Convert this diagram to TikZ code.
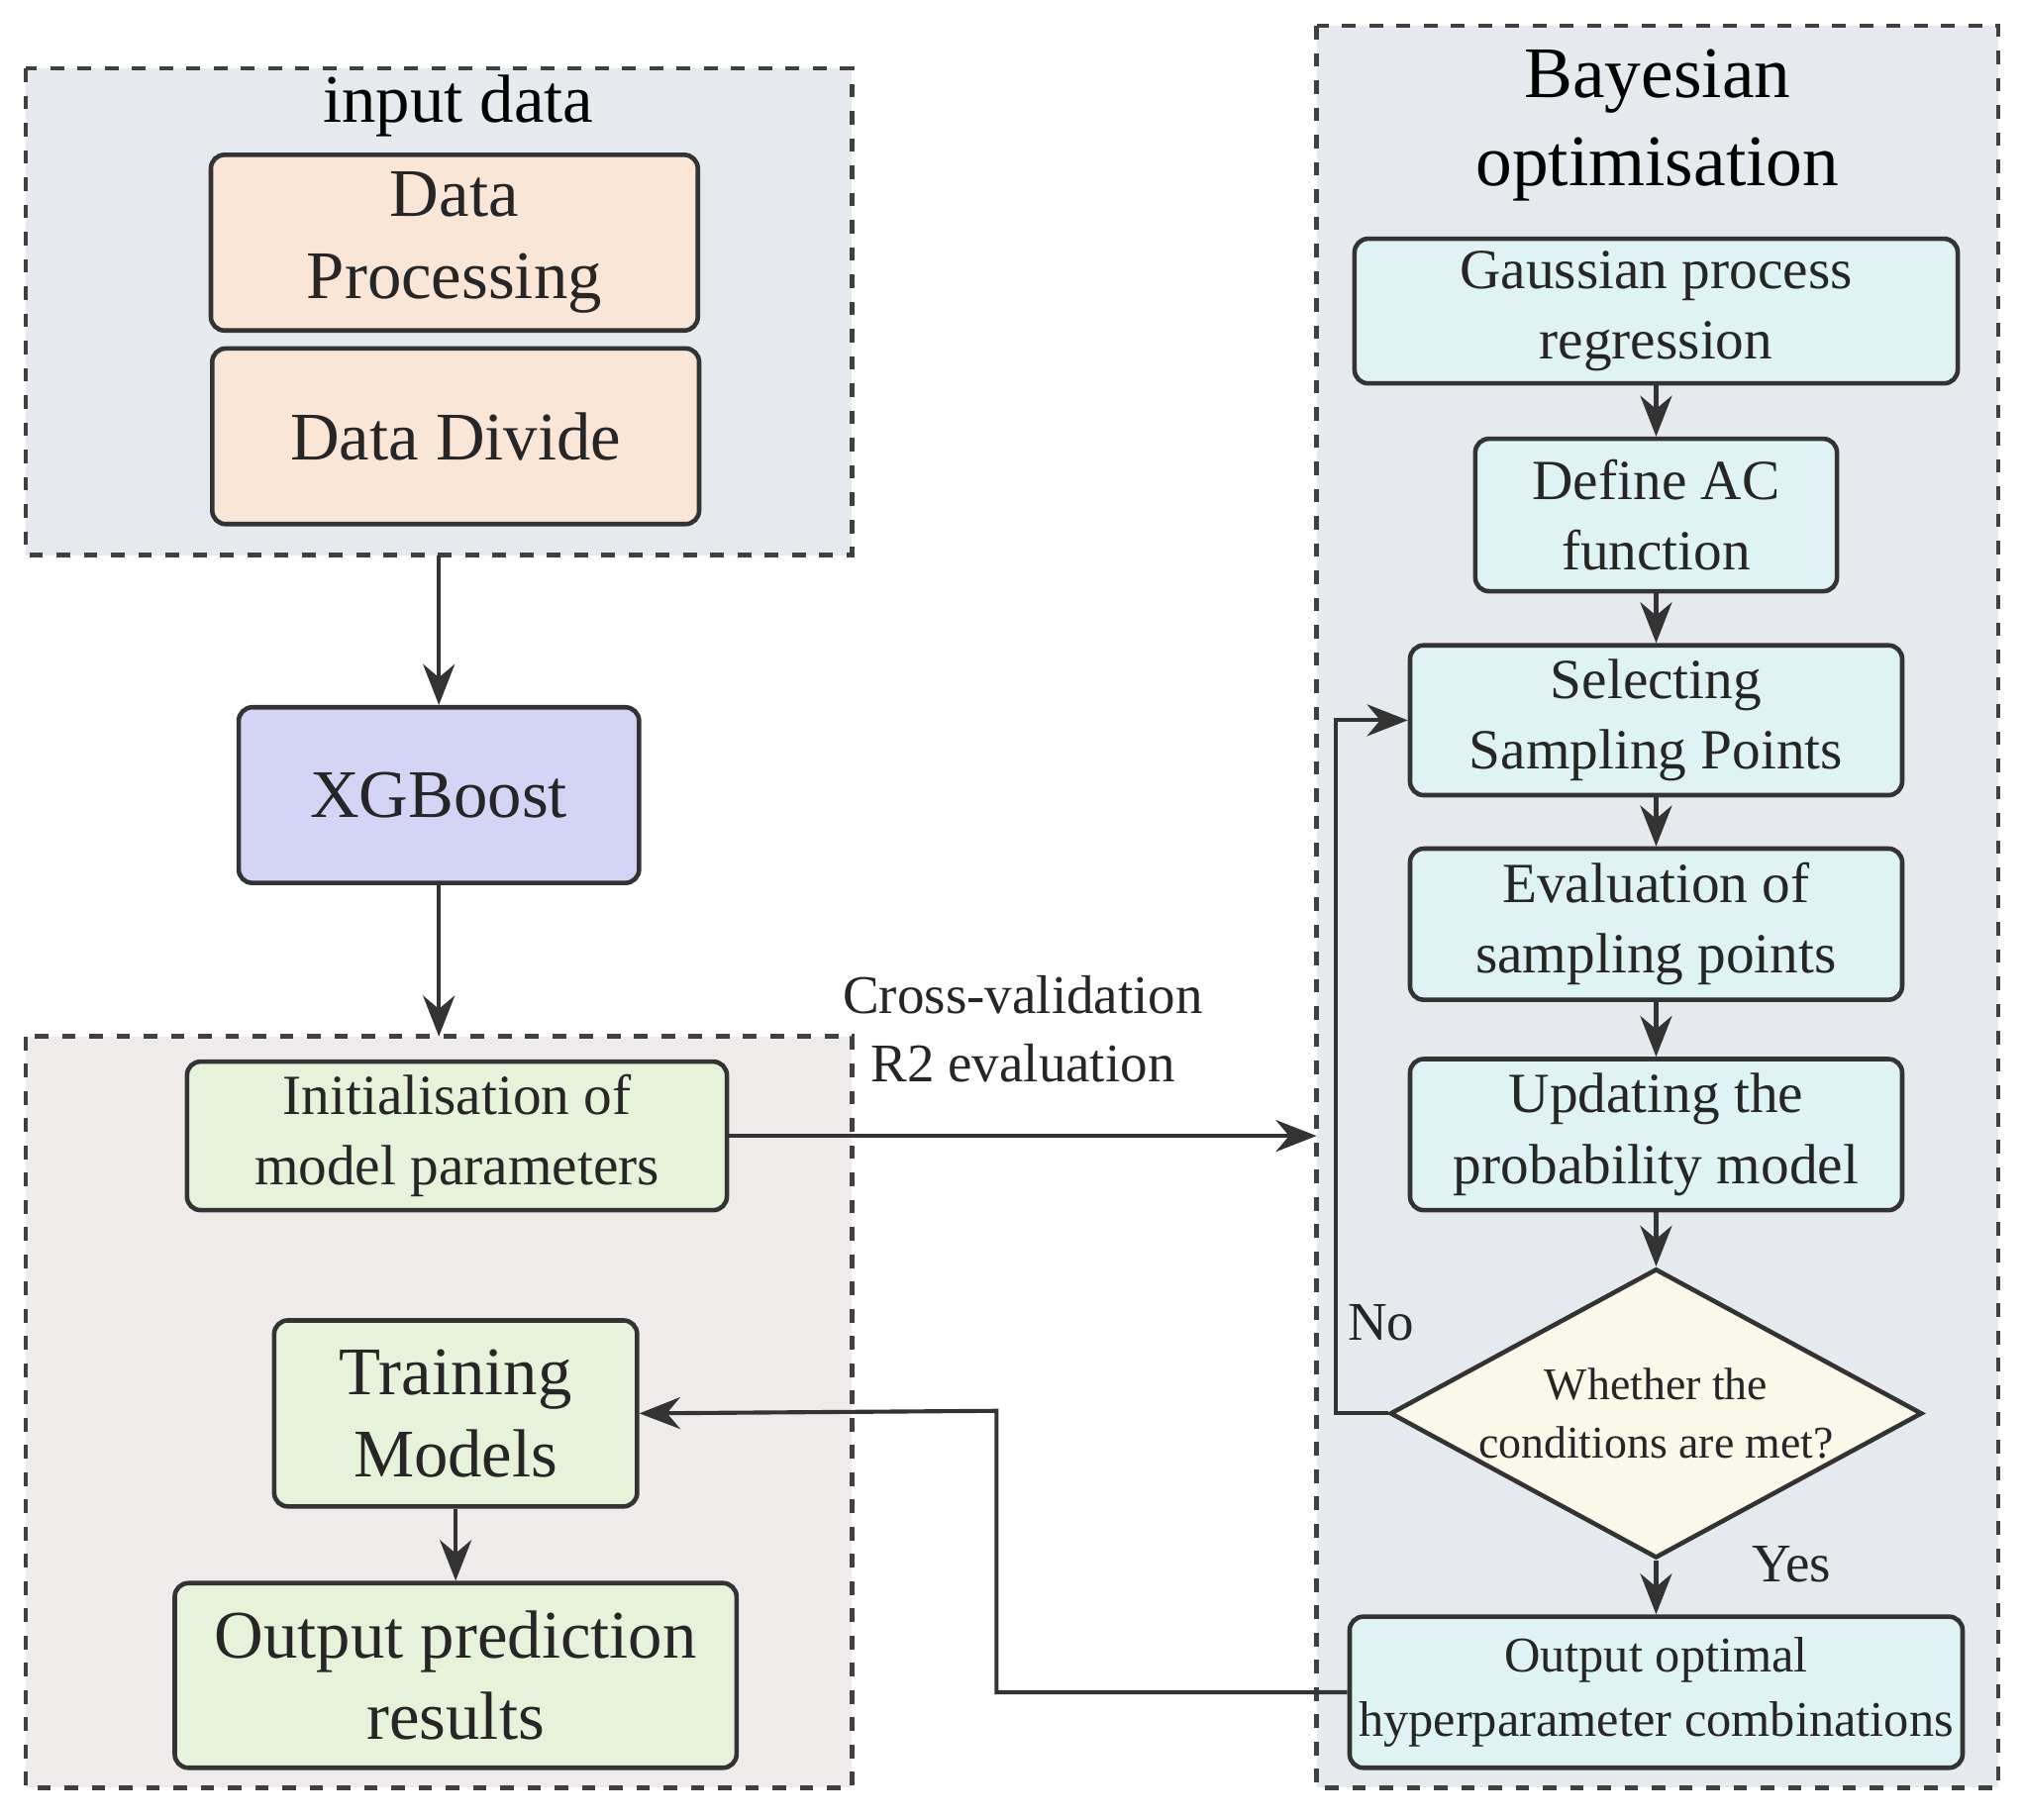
\documentclass[tikz,border=0pt]{standalone}
\usepackage{fontspec}
\setmainfont{Liberation Serif}
\usetikzlibrary{shapes.geometric,arrows.meta}
\definecolor{groupbg}{HTML}{E6E9EE}
\definecolor{lowerbg}{HTML}{EFEBEB}
\definecolor{peach}{HTML}{F9E6D6}
\definecolor{lavender}{HTML}{D4D4F7}
\definecolor{leaf}{HTML}{E6F2DA}
\definecolor{aqua}{HTML}{DFF3F5}
\definecolor{cream}{HTML}{FAF8E8}
\begin{document}
\begin{tikzpicture}[x=0.01cm,y=-0.01cm,
    group/.style={draw=black!75, dashed, line width=1pt},
    stage/.style={draw=black!80, rounded corners=3pt, line width=1pt, align=center, text=black!85, inner sep=2pt},
    flow/.style={-{Stealth[length=9pt,width=7pt]}, draw=black!80, line width=0.9pt},
    big/.style={font=\fontsize{15}{18}\selectfont},
    mid/.style={font=\fontsize{12.5}{15.5}\selectfont}]
    \useasboundingbox (0,0) rectangle (1568,1410);
    % Dashed groups
    \draw[group, fill=groupbg] (20,53) rectangle (660,430);
    \draw[group, fill=lowerbg] (20,803) rectangle (660,1385);
    \draw[group, fill=groupbg] (1020,20) rectangle (1548,1385);
    \node[big] (inputtitle) at (355,82) {input data};
    \node[align=center, font=\fontsize{16}{19.5}\selectfont] (bayestitle) at (1284,97) {Bayesian\\optimisation};
    \coordinate (inputbottom) at (340,430);
    \coordinate (lowertop) at (340,803);
    \coordinate (bayesleft) at (1020,880);

    % Left column
    \node[stage, big, fill=peach, minimum width=3.77cm, minimum height=1.36cm] (process) at (352,188) {Data\\Processing};
    \node[stage, big, fill=peach, minimum width=3.77cm, minimum height=1.36cm] (divide) at (353,338) {Data Divide};
    \node[stage, big, fill=lavender, minimum width=3.10cm, minimum height=1.36cm] (xgb) at (340,616) {XGBoost};
    \node[stage, mid, fill=leaf, minimum width=4.18cm, minimum height=1.15cm] (init) at (354,880) {Initialisation of\\model parameters};
    \node[stage, big, fill=leaf, minimum width=2.81cm, minimum height=1.44cm] (train) at (353,1095) {Training\\Models};
    \node[stage, big, fill=leaf, minimum width=4.35cm, minimum height=1.43cm] (predict) at (353,1298) {Output prediction\\results};

    % Right column
    \node[stage, mid, fill=aqua, minimum width=4.67cm, minimum height=1.12cm] (gauss) at (1283,241) {Gaussian process\\regression};
    \node[stage, mid, fill=aqua, minimum width=2.80cm, minimum height=1.18cm] (acfunc) at (1283,399) {Define AC\\function};
    \node[stage, mid, fill=aqua, minimum width=3.81cm, minimum height=1.16cm] (select) at (1283,558) {Selecting\\Sampling Points};
    \node[stage, mid, fill=aqua, minimum width=3.81cm, minimum height=1.17cm] (evaluate) at (1283,716) {Evaluation of\\sampling points};
    \node[stage, mid, fill=aqua, minimum width=3.81cm, minimum height=1.17cm] (update) at (1283,879) {Updating the\\probability model};
    \node[diamond, draw=black!80, line width=1pt, fill=cream, aspect=1.84, minimum width=4.12cm, minimum height=2.24cm, inner sep=0pt, align=center, text=black!85, font=\fontsize{10}{13}\selectfont] (check) at (1283,1095) {Whether the\\conditions are met?};
    \node[stage, fill=aqua, minimum width=4.67cm, minimum height=1.17cm, font=\fontsize{11}{14}\selectfont] (best) at (1283,1311) {Output optimal\\hyperparameter combinations};

    % Connectors
    \draw[flow] (inputbottom) -- (xgb.north);
    \draw[flow] (xgb.south) -- (lowertop);
    \draw[flow] (init.east) -- node[above=8pt, align=center, font=\fontsize{12}{15}\selectfont, text=black!85] {Cross-validation\\R2 evaluation} (bayesleft);
    \draw[flow] (train.south) -- (predict.north);
    \draw[flow] (gauss) -- (acfunc);
    \draw[flow] (acfunc) -- (select);
    \draw[flow] (select) -- (evaluate);
    \draw[flow] (evaluate) -- (update);
    \draw[flow] (update) -- (check.north);
    \draw[flow] (check.west) -- (1035,1095) -- (1035,558) -- (select.west);
    \draw[flow] (check.south) -- (best.north);
    \draw[flow] (best.west) -- (772,1311) -- (772,1093) -- (train.east);
    \node[font=\fontsize{12}{15}\selectfont, text=black!85] (nolabel) at (1070,1025) {No};
    \node[font=\fontsize{12}{15}\selectfont, text=black!85] (yeslabel) at (1388,1212) {Yes};
\end{tikzpicture}
\end{document}
